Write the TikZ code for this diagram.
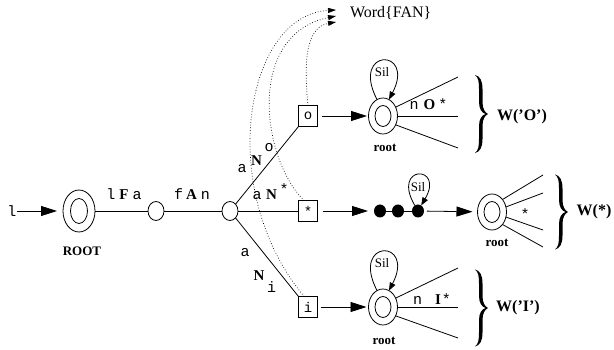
\documentclass[tikz,border=0pt]{standalone}
\usepackage{fontspec}
\setmainfont{Liberation Serif}
\setmonofont{Liberation Mono}
\usetikzlibrary{arrows.meta,shapes.geometric}
\newcommand\bfr[1]{{\rmfamily\bfseries #1}}
\begin{document}
\begin{tikzpicture}[x=1pt,y=-1pt,
  line width=0.8pt,
  every node/.style={inner sep=0pt,outer sep=0pt},
  sm/.style={draw,ellipse,minimum width=16pt,minimum height=19pt},
  bigo/.style={draw,ellipse,minimum width=29pt,minimum height=36pt},
  bigi/.style={draw,ellipse,minimum width=16pt,minimum height=21pt},
  sq/.style={draw,rectangle,minimum width=19pt,minimum height=21pt,font=\fontsize{14}{16}\selectfont\ttfamily},
  blob/.style={fill,ellipse,minimum width=12pt,minimum height=13pt},
  big/.style={-{Triangle[length=16pt,width=10pt]}},
  lp/.style={-{Triangle[length=8pt,width=6pt]}},
  wd/.style={dotted,line width=0.7pt,-{Triangle[length=8pt,width=5pt]}},
  tl/.style={font=\fontsize{15}{18}\selectfont\ttfamily},
  bl/.style={font=\fontsize{15}{18}\selectfont\bfseries},
  rt/.style={font=\fontsize{13}{15}\selectfont\bfseries},
  sil/.style={font=\fontsize{13}{15}\selectfont},
  wl/.style={font=\fontsize{16}{19}\selectfont\bfseries},
  pics/rbrace/.style={code={
    \fill (0,-#1) .. controls (5,{-#1+1}) and (7.5,{-#1+6}) .. (7.5,{-#1+14})
      -- (7.5,-12) .. controls (7.5,-5) and (10,-1.5) .. (13,0)
      .. controls (10,1.5) and (7.5,5) .. (7.5,12)
      -- (7.5,{#1-14}) .. controls (7.5,{#1-6}) and (5,{#1-1}) .. (0,#1)
      .. controls (3.5,{#1-2.5}) and (4,{#1-7}) .. (4,{#1-14})
      -- (4,12) .. controls (4,5) and (7,1) .. (10.5,0)
      .. controls (7,-1) and (4,-5) .. (4,-12)
      -- (4,{-#1+14}) .. controls (4,{-#1+7}) and (3.5,{-#1+2.5}) .. (0,-#1) -- cycle;
  }},
  ]
\useasboundingbox (0,0) rectangle (614,350);

% root chain
\node[tl] (l) at (12,211) {l};
\node[bigo,minimum width=32pt,minimum height=42pt] (R) at (79,211) {};
\node[draw,ellipse,minimum width=17pt,minimum height=25pt] (Ri) at (R) {};
\node[rt] (Rl) at (82,251) {ROOT};
\node[sm] (n1) at (156,211) {};
\node[sm] (n2) at (230,211) {};
\node[sq] (bo) at (308,116) {o};
\node[sq] (bs) at (308,211) {*};
\node[sq] (bi) at (308,307) {i};

\draw[big,shorten >=6pt] (l) -- (R);
\draw (R) -- (n1);
\draw (n1) -- (n2);
\draw (n2) -- (bo.south west);
\draw (n2) -- (bs);
\draw (n2) -- (bi.north west);

% arc labels
\node[tl,anchor=base] (lFa) at (124,200) {l\hspace{4pt}\bfr{F}\hspace{4pt}a};
\node[tl,anchor=base] (fAn) at (192,200) {f\hspace{3pt}\bfr{A}\hspace{4pt}n};
\node[tl,anchor=base] (ao) at (242,173) {a};
\node[bl,anchor=base] (No) at (256.5,166) {N};
\node[tl] (so) at (269,148) {o};
\node[tl,anchor=base] (as) at (257,200) {a};
\node[bl,anchor=base] (Ns) at (271.5,200) {N};
\node[tl] (ss) at (284,189) {*};
\node[tl,anchor=base] (ai) at (245,257) {a};
\node[bl,anchor=base] (Ni) at (259,280) {N};
\node[tl,anchor=base] (si) at (271.5,293) {i};

% Word{FAN}
\node[font=\fontsize{16}{19}\selectfont,anchor=west] (word) at (350,13) {Word\{FAN\}};
\coordinate (w1) at (336,10);
\coordinate (w2) at (336,16);
\coordinate (w3) at (336,22);
\draw[wd] (bo.north) .. controls (303,55) and (308,27) .. (w3);
\draw[wd] (bs.110) .. controls (262,160) and (245,35) .. (w2);
\draw[wd] (bi.110) .. controls (215,190) and (245,15) .. (w1);

% top row
\node[bigo] (r1) at (383,116) {};
\node[bigi] (r1i) at (r1) {};
\node[rt] (r1l) at (385,148) {root};
\node[sil] (s1) at (382,72) {Sil};
\draw[big,shorten <=4pt,shorten >=1.5pt] (bo) -- (r1);
\draw[lp] (r1.110) .. controls +(-27,-52) and +(27,-52) .. (r1.70);
\coordinate (f1a) at (458,77);
\coordinate (f1b) at (458,116);
\coordinate (f1c) at (458,148);
\draw (r1.35) -- (f1a);
\draw (r1.0) -- (f1b);
\draw (r1.-35) -- (f1c);
\node[tl,anchor=base] (nO) at (428.5,110) {n\hspace{5pt}\bfr{O}\hspace{3pt}*};
\pic at (475,114) {rbrace=39};
\node[wl] (wO) at (522,117) {W(’O’)};

% middle row
\node[blob] (d1) at (380,211) {};
\node[blob] (d2) at (398,211) {};
\node[blob] (d3) at (418,211) {};
\draw[big,shorten <=5pt,shorten >=6pt] (bs) -- (d1);
\draw (d1) -- (d2);
\draw (d2) -- (d3);
\node[sil] (s2) at (418,187) {Sil};
\draw[lp] (d3.120) .. controls +(-24,-41) and +(24,-41) .. (d3.60);
\node[bigo] (r2) at (492,212) {};
\node[bigi] (r2i) at (r2) {};
\node[rt] (r2l) at (497,243) {root};
\draw[big,shorten <=3pt,shorten >=5pt] (d3) -- (r2);
\coordinate (f2a) at (543,175);
\coordinate (f2b) at (543,193);
\coordinate (f2c) at (543,230);
\coordinate (f2d) at (543,247);
\draw (r2.50) -- (f2a);
\draw (r2.20) -- (f2b);
\draw (r2.-20) -- (f2c);
\draw (r2.-50) -- (f2d);
\node[tl] (st) at (525,214) {*};
\pic at (555,212) {rbrace=37.5};
\node[wl] (wS) at (594,212) {W(*)};

% bottom row
\node[bigo] (r3) at (383,307) {};
\node[bigi] (r3i) at (r3) {};
\node[rt] (r3l) at (384,341) {root};
\node[sil] (s3) at (382,263) {Sil};
\draw[big,shorten <=3pt,shorten >=2pt] (bi) -- (r3);
\draw[lp] (r3.110) .. controls +(-27,-52) and +(27,-52) .. (r3.70);
\coordinate (f3a) at (458,268);
\coordinate (f3b) at (458,307);
\coordinate (f3c) at (458,338);
\draw (r3.35) -- (f3a);
\draw (r3.0) -- (f3b);
\draw (r3.-35) -- (f3c);
\node[tl,anchor=base] (nI) at (432,305) {n\hspace{13pt}\bfr{I}\hspace{1pt}*};
\pic at (475,308) {rbrace=38.5};
\node[wl] (wI) at (518,308) {W(’I’)};
\end{tikzpicture}
\end{document}
